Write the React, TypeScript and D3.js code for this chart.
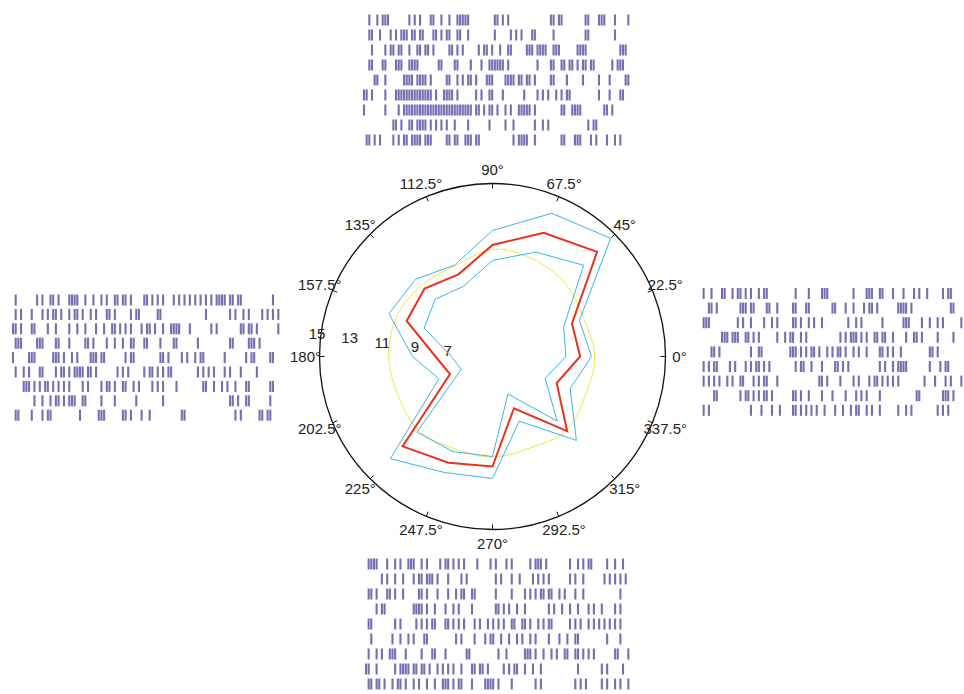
import * as d3 from "d3"

const WIDTH = 964
const HEIGHT = 694

// polar tuning curve: one value per direction (degrees)
const directions = [0, 22.5, 45, 67.5, 90, 112.5, 135, 157.5, 180, 202.5, 225, 247.5, 270, 292.5, 315, 337.5]
const meanRate = [9.82, 9.72, 13.48, 12.63, 11.27, 9.9, 10.33, 10.14, 7.96, 7.29, 12.21, 11.48, 11.18, 7.9, 10.91, 8.72]
const upperBound = [10.51, 10.21, 14.64, 13.91, 12.15, 10.51, 11.12, 11.3, 9.36, 8.02, 13.27, 12.12, 11.9, 8.75, 11.7, 9.6]
const lowerBound = [8.96, 9.17, 12.33, 11.36, 10.33, 9.11, 9.42, 8.99, 6.99, 6.56, 10.99, 10.75, 10.57, 6.96, 10.05, 7.96]
const baseline = [10.7, 10.5, 10.75, 10.9, 11.0, 10.45, 10.6, 10.8, 10.8, 10.7, 10.85, 10.55, 10.6, 10.5, 10.85, 10.6]
const radialTicks = [7, 9, 11, 13, 15]

// spike times, % of trial, one list per trial
const topTrials = [
  [2, 5, 7, 8, 9, 17, 19, 21, 25, 26, 29, 32, 35, 36, 37, 38, 39, 49, 50, 52, 54, 70, 71, 73, 74, 83, 84, 88, 89, 90, 94, 99],
  [2, 3, 6, 10, 12, 14, 15, 16, 18, 19, 21, 22, 26, 27, 29, 31, 32, 35, 36, 39, 49, 55, 57, 59, 63, 64, 71, 83, 84, 94],
  [3, 8, 10, 11, 13, 14, 17, 20, 21, 23, 24, 26, 32, 33, 35, 37, 43, 45, 46, 48, 51, 54, 55, 61, 62, 63, 65, 66, 67, 68, 71, 72, 73, 80, 81, 82, 83, 96, 97, 98],
  [2, 3, 7, 8, 12, 13, 14, 17, 18, 19, 20, 28, 29, 34, 35, 40, 44, 47, 48, 49, 50, 51, 52, 54, 65, 70, 71, 74, 75, 77, 78, 80, 82, 83, 85, 86, 93, 95, 96, 97],
  [4, 5, 8, 15, 16, 17, 18, 20, 21, 22, 23, 25, 31, 32, 35, 37, 39, 40, 42, 46, 47, 48, 53, 54, 55, 56, 58, 59, 61, 62, 64, 70, 71, 76, 82, 88, 92, 98, 99],
  [0, 1, 3, 8, 12, 13, 14, 15, 16, 17, 18, 19, 20, 21, 22, 23, 24, 25, 27, 30, 31, 32, 33, 35, 42, 44, 47, 48, 52, 60, 65, 67, 69, 72, 74, 76, 77, 88, 92, 96, 97],
  [0, 8, 13, 15, 16, 17, 18, 19, 20, 21, 22, 23, 24, 25, 26, 27, 28, 29, 30, 31, 32, 33, 34, 35, 36, 37, 38, 39, 40, 42, 43, 45, 47, 48, 50, 53, 55, 58, 59, 60, 61, 62, 64, 74, 75, 78, 79, 80, 81, 90, 91, 93],
  [11, 12, 14, 17, 18, 20, 21, 22, 23, 25, 27, 29, 31, 34, 39, 47, 53, 56, 64, 67, 69, 84, 86, 87],
  [1, 2, 4, 6, 11, 13, 15, 16, 18, 19, 20, 21, 23, 24, 25, 31, 32, 34, 35, 38, 39, 40, 42, 43, 56, 58, 59, 60, 61, 64, 74, 75, 79, 80, 81, 85, 87, 91, 94, 96],
]

const leftTrials = [
  [1, 9, 11, 14, 15, 17, 21, 22, 23, 24, 27, 30, 33, 35, 38, 39, 41, 42, 44, 49, 50, 52, 54, 56, 60, 62, 64, 66, 68, 70, 72, 74, 76, 77, 78, 79, 81, 82, 84, 85, 97],
  [1, 3, 7, 11, 13, 15, 16, 18, 21, 23, 24, 26, 29, 31, 35, 36, 38, 44, 46, 47, 54, 55, 72, 81, 83, 86, 88, 93, 95, 97, 99],
  [0, 1, 3, 7, 8, 13, 16, 21, 24, 27, 31, 34, 37, 38, 40, 42, 44, 48, 50, 51, 53, 56, 59, 60, 61, 62, 66, 74, 76, 85, 86, 88, 89, 91, 99],
  [1, 2, 3, 9, 10, 11, 16, 17, 21, 27, 28, 30, 35, 38, 41, 44, 45, 49, 50, 55, 60, 61, 69, 81, 82, 88, 89, 90, 92],
  [0, 6, 7, 8, 15, 16, 17, 19, 22, 24, 29, 30, 31, 33, 34, 42, 44, 45, 55, 56, 58, 63, 65, 68, 70, 71, 79, 87, 89, 90, 96, 97],
  [1, 4, 6, 10, 11, 16, 18, 19, 21, 23, 24, 25, 26, 28, 29, 31, 39, 41, 43, 49, 51, 52, 54, 56, 58, 59, 69, 71, 73, 75, 79, 81, 85, 91],
  [4, 5, 6, 8, 10, 12, 13, 15, 17, 19, 21, 26, 28, 33, 35, 36, 38, 41, 42, 45, 47, 52, 54, 56, 61, 71, 72, 75, 78, 80, 83, 87, 88, 96, 97],
  [8, 11, 14, 16, 17, 19, 21, 22, 23, 26, 27, 33, 38, 46, 56, 81, 82, 84, 87, 88, 96],
  [1, 2, 7, 11, 13, 14, 25, 32, 33, 34, 41, 42, 44, 48, 51, 63, 64, 83, 85, 92, 93, 95, 96],
]

const rightTrials = [
  [1, 4, 8, 9, 12, 14, 15, 17, 19, 22, 24, 25, 36, 41, 46, 47, 48, 58, 63, 64, 65, 68, 69, 73, 77, 81, 83, 86, 92, 94, 95],
  [3, 4, 6, 15, 16, 17, 19, 20, 25, 26, 29, 35, 36, 40, 41, 50, 51, 55, 58, 62, 64, 65, 67, 75, 76, 77, 78, 80, 95, 96],
  [1, 2, 3, 14, 16, 19, 24, 27, 29, 35, 36, 38, 41, 43, 46, 56, 59, 61, 69, 77, 78, 79, 84, 87, 90, 92, 99],
  [8, 9, 10, 12, 13, 14, 17, 18, 20, 22, 29, 32, 34, 35, 38, 40, 53, 55, 57, 58, 59, 61, 63, 66, 67, 69, 70, 73, 78, 81, 82, 84, 90, 96],
  [4, 5, 7, 19, 22, 23, 34, 35, 36, 38, 40, 42, 43, 45, 48, 50, 52, 53, 55, 58, 60, 63, 68, 69, 71, 73, 76, 87, 88, 90],
  [1, 3, 5, 6, 11, 13, 17, 19, 21, 22, 24, 26, 36, 38, 39, 42, 46, 51, 52, 54, 56, 68, 70, 73, 75, 76, 77, 78, 87, 91, 93, 94],
  [1, 3, 5, 7, 10, 12, 15, 16, 20, 22, 24, 25, 29, 45, 46, 48, 53, 58, 60, 64, 66, 67, 69, 71, 73, 75, 85, 89, 93, 95, 99],
  [5, 6, 15, 17, 18, 20, 22, 24, 25, 27, 35, 36, 38, 41, 46, 50, 55, 59, 61, 63, 68, 82, 83, 92, 93, 94, 96],
  [1, 3, 19, 23, 27, 30, 35, 36, 38, 40, 42, 44, 47, 51, 54, 57, 59, 60, 63, 65, 68, 75, 78, 80, 90, 92, 94],
]

const bottomTrials = [
  [1, 2, 3, 4, 8, 11, 13, 16, 17, 18, 21, 23, 28, 30, 31, 33, 35, 37, 42, 47, 49, 53, 55, 62, 64, 65, 66, 68, 77, 80, 82, 84, 85, 91, 94, 97],
  [6, 8, 11, 14, 18, 20, 21, 23, 24, 25, 27, 31, 36, 38, 49, 51, 55, 58, 63, 65, 67, 69, 77, 79, 82, 90, 92, 94, 96, 98],
  [1, 2, 4, 8, 9, 11, 14, 20, 21, 23, 27, 31, 34, 36, 37, 40, 41, 49, 55, 60, 62, 64, 66, 67, 69, 70, 73, 75, 79, 82, 96],
  [4, 6, 7, 18, 19, 20, 21, 23, 26, 30, 33, 35, 40, 49, 50, 52, 54, 57, 60, 69, 71, 74, 77, 80, 84, 86, 89, 94, 96],
  [1, 2, 11, 13, 19, 21, 23, 25, 26, 30, 31, 33, 35, 37, 41, 43, 46, 48, 50, 52, 55, 56, 59, 60, 62, 65, 67, 69, 70, 77, 79, 81, 84, 86, 88, 90, 92, 94, 96],
  [2, 10, 13, 16, 18, 22, 23, 34, 36, 41, 45, 47, 48, 51, 54, 57, 59, 62, 64, 69, 73, 76, 79, 80, 91, 96],
  [1, 4, 6, 9, 10, 11, 15, 21, 25, 26, 30, 38, 39, 50, 53, 60, 61, 62, 64, 67, 70, 72, 75, 76, 79, 80, 82, 84, 86, 94, 95, 99],
  [0, 1, 4, 11, 13, 14, 15, 16, 18, 19, 21, 22, 24, 27, 29, 31, 33, 36, 40, 41, 43, 44, 46, 52, 54, 56, 57, 60, 63, 66, 80, 89, 91, 97],
  [1, 2, 4, 5, 7, 10, 12, 13, 15, 18, 20, 23, 26, 29, 30, 31, 33, 35, 36, 40, 45, 46, 47, 48, 50, 55, 64, 66, 79, 81, 83, 89, 91, 94, 96, 99],
]

const CX = 492.5
const CY = 356.5
const R = 173

const rScale = d3.scaleLinear().domain([4.5, 15]).range([0, R])
const toRad = (deg) => (deg * Math.PI) / 180

function RasterBlock({ trials, x0, width, y0, pitch }) {
  const x = d3.scaleLinear().domain([0, 100]).range([x0, x0 + width])
  return (
    <g>
      {trials.map((row, i) =>
        row.map((t, j) => (
          <line
            key={`${i}-${j}`}
            x1={x(t) + 1}
            x2={x(t) + 1}
            y1={y0 + i * pitch - 5.5}
            y2={y0 + i * pitch + 5.5}
            stroke="#3b3794"
            strokeWidth={2.1}
            strokeOpacity={0.72}
          />
        ))
      )}
    </g>
  )
}

export default function App() {
  // d3.lineRadial: angle 0 is up, clockwise. Our directions run counterclockwise from east.
  const radial = d3
    .lineRadial()
    .angle((d) => toRad(90 - d[0]))
    .radius((d) => rScale(d[1]))
    .curve(d3.curveLinearClosed)

  const smoothRadial = d3
    .lineRadial()
    .angle((d) => toRad(90 - d[0]))
    .radius((d) => rScale(d[1]))
    .curve(d3.curveCardinalClosed)

  const pairs = (vals) => directions.map((a, i) => [a, vals[i]])

  const labelAngle = toRad(172.5)

  return (
    <svg
      width={WIDTH}
      height={HEIGHT}
      style={{ position: "absolute", left: 0, top: 0, background: "#ffffff" }}
      fontFamily="'Liberation Sans', Arial, Helvetica, sans-serif"
    >
      <RasterBlock trials={topTrials} x0={363} width={267} y0={20} pitch={15} />
      <RasterBlock trials={leftTrials} x0={12} width={268} y0={300} pitch={14.4} />
      <RasterBlock trials={rightTrials} x0={700} width={263} y0={293.5} pitch={14.6} />
      <RasterBlock trials={bottomTrials} x0={365} width={265} y0={564} pitch={15} />

      <g transform={`translate(${CX},${CY})`}>
        <circle r={R} fill="none" stroke="#111" strokeWidth={1.3} />
        {directions.map((a) => (
          <line
            key={a}
            x1={R * Math.cos(toRad(a))}
            y1={-R * Math.sin(toRad(a))}
            x2={(R - 5) * Math.cos(toRad(a))}
            y2={-(R - 5) * Math.sin(toRad(a))}
            stroke="#111"
            strokeWidth={1}
          />
        ))}
        {directions.map((a) => (
          <text
            key={`l${a}`}
            x={187 * Math.cos(toRad(a))}
            y={-187 * Math.sin(toRad(a))}
            textAnchor="middle"
            dominantBaseline="central"
            fontSize={15}
            fill="#222"
          >
            {`${a}°`}
          </text>
        ))}
        {radialTicks.map((v) => (
          <text
            key={`r${v}`}
            x={(rScale(v) + 4) * Math.cos(labelAngle)}
            y={-(rScale(v) + 4) * Math.sin(labelAngle)}
            textAnchor="middle"
            dominantBaseline="central"
            fontSize={15}
            fill="#222"
          >
            {v}
          </text>
        ))}

        <path d={smoothRadial(pairs(baseline))} fill="none" stroke="#f3e54a" strokeWidth={1} />
        <path d={radial(pairs(upperBound))} fill="none" stroke="#3cb4e6" strokeWidth={1} />
        <path d={radial(pairs(lowerBound))} fill="none" stroke="#3cb4e6" strokeWidth={1} />
        <path d={radial(pairs(meanRate))} fill="none" stroke="#e8321e" strokeWidth={2} />
      </g>
    </svg>
  )
}
